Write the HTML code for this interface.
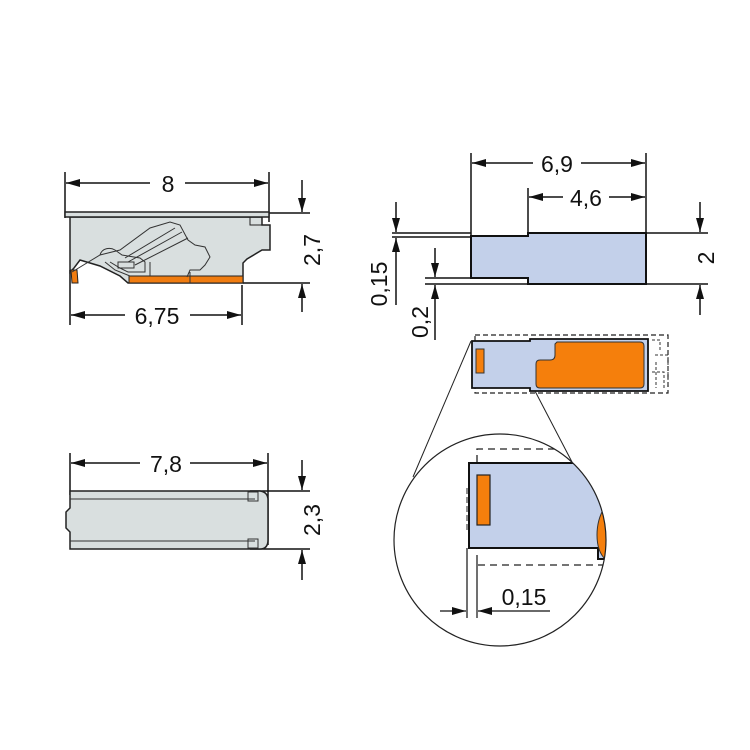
<!DOCTYPE html>
<html><head><style>html,body{margin:0;padding:0;background:#fff}svg{display:block}text{font-family:"Liberation Sans",sans-serif;font-size:23px;fill:#111}</style></head>
<body>
<svg width="750" height="750" viewBox="0 0 750 750" xmlns="http://www.w3.org/2000/svg">
<defs>
<marker id="a" markerWidth="14" markerHeight="8" refX="14" refY="4" orient="auto" markerUnits="userSpaceOnUse"><path d="M0,0 L14,4 L0,8 z" fill="#111"/></marker>
<clipPath id="c"><circle cx="500" cy="540" r="106"/></clipPath>
</defs>
<g stroke="#111" stroke-width="1.5" fill="none">
<line x1="65" y1="172" x2="65" y2="218"/><line x1="269" y1="172" x2="269" y2="222"/>
<line x1="150" y1="183" x2="66" y2="183" marker-end="url(#a)"/><line x1="185" y1="183" x2="268" y2="183" marker-end="url(#a)"/>
<line x1="262" y1="213" x2="310" y2="213"/><line x1="243" y1="283" x2="310" y2="283"/>
<line x1="302" y1="180" x2="302" y2="212" marker-end="url(#a)"/><line x1="302" y1="312" x2="302" y2="284" marker-end="url(#a)"/>
<line x1="70" y1="270" x2="70" y2="325"/><line x1="242" y1="285" x2="242" y2="325"/>
<line x1="125" y1="315" x2="71" y2="315" marker-end="url(#a)"/><line x1="190" y1="315" x2="241" y2="315" marker-end="url(#a)"/>
</g>
<text x="168" y="192" text-anchor="middle">8</text>
<text x="157" y="324" text-anchor="middle">6,75</text>
<text transform="translate(320,250) rotate(-90)" text-anchor="middle">2,7</text>
<path d="M70,217 L262,217 L262,225 L270,225 L270,250 L262,250 L247,259 L243,263 L243,283 L128,283 L120,276 L100,266 L80,260 L74,268 L70,272 Z" fill="#d9dfdf" stroke="#222" stroke-width="1.5"/>
<rect x="65" y="212" width="204" height="5" fill="#d9dfdf" stroke="#222" stroke-width="1.5"/>
<rect x="250" y="217" width="12" height="8" fill="none" stroke="#222" stroke-width="1"/>
<rect x="129" y="276" width="114" height="7" fill="#f07c10" stroke="#222" stroke-width="1"/>
<path d="M71,270 L77,270 L78,283 L72,283 Z" fill="#f07c10" stroke="#222" stroke-width="1"/>
<g stroke="#333" stroke-width="1" fill="none">
<path d="M72,272 L100,255 L120,250 L150,228 L170,222 L180,225 L188,240 L195,245 L205,247 L210,257 L205,265 L200,270 L190,270 L187,277"/>
<path d="M105,262 L115,270 L130,276"/>
<path d="M100,255 C102,248 110,247 115,250 L122,255 L140,258 L145,262 L145,272 L128,272 L120,268 L110,262"/>
<path d="M125,258 L175,228 M128,262 L182,232 M135,265 L188,238"/>
<rect x="118" y="262" width="16" height="6"/>
<path d="M150,262 L150,276 M190,272 L190,283"/>
</g>
<g stroke="#111" stroke-width="1.5" fill="none">
<line x1="70" y1="453" x2="70" y2="495"/><line x1="268" y1="453" x2="268" y2="545"/>
<line x1="140" y1="463" x2="71" y2="463" marker-end="url(#a)"/><line x1="190" y1="463" x2="267" y2="463" marker-end="url(#a)"/>
<line x1="250" y1="491" x2="310" y2="491"/><line x1="250" y1="549" x2="310" y2="549"/>
<line x1="302" y1="460" x2="302" y2="490" marker-end="url(#a)"/><line x1="302" y1="580" x2="302" y2="550" marker-end="url(#a)"/>
</g>
<text x="166" y="472" text-anchor="middle">7,8</text>
<text transform="translate(320,520) rotate(-90)" text-anchor="middle">2,3</text>
<path d="M70,491 L260,491 Q268,492 268,500 L268,540 Q268,549 260,549 L70,549 L70,532 L66,528 L66,512 L70,508 Z" fill="#d9dfdf" stroke="#222" stroke-width="1.5"/>
<g stroke="#333" stroke-width="1" fill="none"><line x1="70" y1="499" x2="255" y2="499"/><line x1="70" y1="541" x2="255" y2="541"/>
<rect x="248" y="492" width="10" height="9"/><rect x="248" y="539" width="10" height="9"/></g>
<g stroke="#111" stroke-width="1.5" fill="none">
<line x1="471" y1="153" x2="471" y2="236"/><line x1="646" y1="153" x2="646" y2="233"/><line x1="528" y1="188" x2="528" y2="233"/>
<line x1="533" y1="163" x2="472" y2="163" marker-end="url(#a)"/><line x1="581" y1="163" x2="645" y2="163" marker-end="url(#a)"/>
<line x1="563" y1="197" x2="529" y2="197" marker-end="url(#a)"/><line x1="609" y1="197" x2="645" y2="197" marker-end="url(#a)"/>
<line x1="646" y1="233" x2="708" y2="233"/><line x1="646" y1="284" x2="708" y2="284"/>
<line x1="700" y1="202" x2="700" y2="232" marker-end="url(#a)"/><line x1="700" y1="315" x2="700" y2="285" marker-end="url(#a)"/>
<line x1="392" y1="233" x2="471" y2="233"/><line x1="392" y1="237" x2="471" y2="237"/>
<line x1="396" y1="202" x2="396" y2="232" marker-end="url(#a)"/><line x1="396" y1="305" x2="396" y2="238" marker-end="url(#a)"/>
<line x1="425" y1="278" x2="471" y2="278"/><line x1="425" y1="284" x2="528" y2="284"/>
<line x1="435" y1="248" x2="435" y2="277" marker-end="url(#a)"/><line x1="435" y1="340" x2="435" y2="285" marker-end="url(#a)"/>
</g>
<text x="557" y="172" text-anchor="middle">6,9</text>
<text x="586" y="206" text-anchor="middle">4,6</text>
<text transform="translate(714,258) rotate(-90)" text-anchor="middle">2</text>
<text transform="translate(387,284) rotate(-90)" text-anchor="middle">0,15</text>
<text transform="translate(428,322) rotate(-90)" text-anchor="middle">0,2</text>
<path d="M471,236 L528,236 L528,233 L646,233 L646,284 L528,284 L528,278 L471,278 Z" fill="#c3d0ea" stroke="#111" stroke-width="2"/>
<rect x="475" y="335" width="193" height="58" fill="none" stroke="#222" stroke-width="1.2" stroke-dasharray="5,3"/>
<path d="M472,341 L530,341 L530,339 L648,339 L648,391 L530,391 L530,388 L472,388 Z" fill="#c3d0ea" stroke="#111" stroke-width="1.8"/>
<path d="M557,342 L640,342 Q644,342 644,346 L644,384 Q644,388 640,388 L540,388 Q536,388 536,384 L536,364 Q536,360 540,360 L550,360 Q555,360 555,355 L555,344 Z" fill="#f57f0c" stroke="#333" stroke-width="1"/>
<rect x="476" y="349" width="8" height="24" fill="#f57f0c" stroke="#333" stroke-width="1"/>
<path d="M652,340 L660,340 L660,350 M655,355 L668,355 L668,385 M652,372 L664,372 L664,388 M656,362 L656,388" fill="none" stroke="#333" stroke-width="1" stroke-dasharray="3,2"/>
<line x1="471" y1="341" x2="413" y2="477" stroke="#222" stroke-width="1"/>
<line x1="535" y1="391" x2="572" y2="462" stroke="#222" stroke-width="1"/>
<g clip-path="url(#c)">
<path d="M477,462 L477,449 L620,449" fill="none" stroke="#222" stroke-width="1.3" stroke-dasharray="7,5"/>
<path d="M469,463 L640,463 L640,559 L598,559 L598,548 L469,548 Z" fill="#c3d0ea" stroke="#111" stroke-width="2"/>
<path d="M606,505 Q597,518 597,535 Q597,552 606,560 Z" fill="#f57f0c" stroke="#333" stroke-width="1"/>
<line x1="478" y1="565" x2="620" y2="565" stroke="#222" stroke-width="1.3" stroke-dasharray="7,5"/>
</g>
<circle cx="500" cy="540" r="106" fill="none" stroke="#222" stroke-width="1.2"/>
<rect x="477" y="475" width="13" height="50" fill="#f57f0c" stroke="#222" stroke-width="1.2"/>
<line x1="467" y1="488" x2="467" y2="530" stroke="#222" stroke-width="1" stroke-dasharray="6,3"/>
<g stroke="#111" stroke-width="1.2" fill="none">
<line x1="467" y1="548" x2="467" y2="618"/><line x1="477" y1="555" x2="477" y2="618"/>
<line x1="440" y1="611" x2="466" y2="611" marker-end="url(#a)"/><line x1="550" y1="611" x2="478" y2="611" marker-end="url(#a)"/>
</g>
<text x="524" y="605" text-anchor="middle">0,15</text>
</svg>
</body></html>
